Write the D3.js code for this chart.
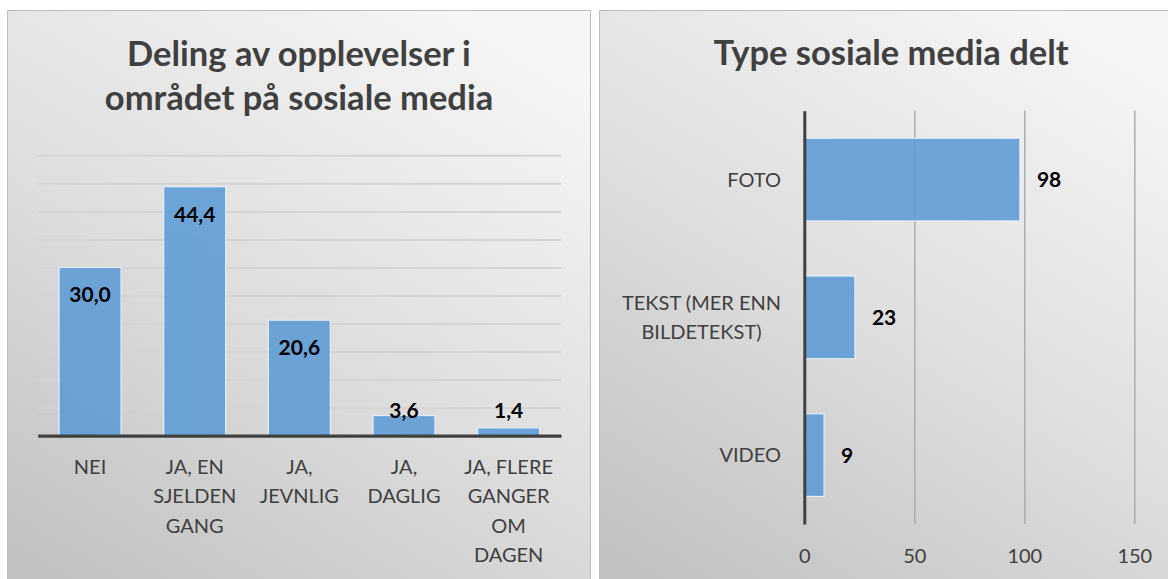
<!DOCTYPE html>
<html>
<head>
<meta charset="utf-8">
<script src="https://cdn.jsdelivr.net/npm/d3@7"></script>
<style>
html,body{margin:0;padding:0;background:#fff;}
svg{display:block;}
text{font-family:Lato,"Open Sans",sans-serif;}
</style>
</head>
<body>
<svg id="chart" width="1168" height="579"></svg>
<script>
// ---- data ----
const title1 = ["Deling av opplevelser i", "området på sosiale media"];
const categories1 = [
  ["NEI"],
  ["JA, EN", "SJELDEN", "GANG"],
  ["JA,", "JEVNLIG"],
  ["JA,", "DAGLIG"],
  ["JA, FLERE", "GANGER", "OM", "DAGEN"]
];
const values1 = [30.0, 44.4, 20.6, 3.6, 1.4];
const gridValues1 = [5, 10, 15, 20, 25, 30, 35, 40, 45, 50];

const title2 = "Type sosiale media delt";
const categories2 = [
  ["FOTO"],
  ["TEKST (MER ENN", "BILDETEKST)"],
  ["VIDEO"]
];
const values2 = [98, 23, 9];
const xTicks2 = [0, 50, 100, 150];

// ---- drawing ----
const svg = d3.select("#chart");
const defs = svg.append("defs");

const bg = defs.append("linearGradient").attr("id", "panelBg")
  .attr("x1", 0.8).attr("y1", 0).attr("x2", 0.25).attr("y2", 1);
bg.append("stop").attr("offset", 0).attr("stop-color", "#f6f6f6");
bg.append("stop").attr("offset", 0.5).attr("stop-color", "#dfdfdf");
bg.append("stop").attr("offset", 1).attr("stop-color", "#c2c2c2");

const g1 = defs.append("linearGradient").attr("id", "grid1")
  .attr("gradientUnits", "userSpaceOnUse")
  .attr("x1", 0).attr("y1", 150).attr("x2", 0).attr("y2", 420);
g1.append("stop").attr("offset", 0).attr("stop-color", "#d4d4d4");
g1.append("stop").attr("offset", 1).attr("stop-color", "#6e6e6e");

const g2 = defs.append("linearGradient").attr("id", "grid2")
  .attr("gradientUnits", "userSpaceOnUse")
  .attr("x1", 0).attr("y1", 110).attr("x2", 0).attr("y2", 525);
g2.append("stop").attr("offset", 0).attr("stop-color", "#acacac");
g2.append("stop").attr("offset", 1).attr("stop-color", "#848484");

// panels
svg.append("rect").attr("x", 7.5).attr("y", 10.5).attr("width", 583).attr("height", 620)
  .attr("fill", "url(#panelBg)").attr("stroke", "#bdbdbd").attr("stroke-width", 1);
svg.append("rect").attr("x", 599.5).attr("y", 10.5).attr("width", 583).attr("height", 620)
  .attr("fill", "url(#panelBg)").attr("stroke", "#bdbdbd").attr("stroke-width", 1);

const barFill = "#5b9bd5";
const fmt1 = v => d3.format(".1f")(v).replace(".", ",");

// ===== Chart 1: vertical bars =====
const x1 = d3.scaleBand().domain(d3.range(categories1.length))
  .range([37.7, 561]).paddingInner(0.408).paddingOuter(0.204);
const y1 = d3.scaleLinear().domain([0, 50]).range([435.7, 155.3]);

const c1 = svg.append("g");
c1.append("text").attr("x", 299).attr("text-anchor", "middle")
  .attr("font-size", 34.5).attr("font-weight", 700).attr("fill", "#404040")
  .selectAll("tspan").data(title1).join("tspan")
  .attr("x", 299).attr("y", (d, i) => 66 + i * 43.5).text(d => d);

// gridlines
c1.append("g").attr("transform", "translate(37.7,0)")
  .call(d3.axisLeft(y1).tickValues(gridValues1).tickSize(-(561 - 37.7)).tickFormat(""))
  .call(g => g.select(".domain").remove())
  .call(g => g.selectAll(".tick line").attr("stroke", "url(#grid1)").attr("stroke-width", 2));

// bars
c1.append("g").selectAll("rect").data(values1).join("rect")
  .attr("x", (d, i) => x1(i)).attr("width", x1.bandwidth())
  .attr("y", d => y1(d)).attr("height", d => y1(0) - y1(d))
  .attr("fill", barFill).attr("fill-opacity", 0.88)
  .attr("stroke", "#e3edf7").attr("stroke-width", 1.2);

// baseline axis
c1.append("g").attr("transform", `translate(0,${y1(0)})`)
  .call(d3.axisBottom(x1).tickSize(0).tickFormat(""))
  .call(g => g.select(".domain").attr("stroke", "#404040").attr("stroke-width", 3.3));

// data labels
c1.append("g").selectAll("text").data(values1).join("text")
  .attr("x", (d, i) => x1(i) + x1.bandwidth() / 2)
  .attr("y", d => Math.min(y1(d) + 35, y1(0) - 18))
  .attr("text-anchor", "middle").attr("font-size", 21).attr("font-weight", 700)
  .attr("fill", "#000").text(d => fmt1(d));

// category labels
c1.append("g").selectAll("text").data(categories1).join("text")
  .attr("text-anchor", "middle").attr("font-size", 20).attr("fill", "#404040")
  .each(function (lines, i) {
    d3.select(this).selectAll("tspan").data(lines).join("tspan")
      .attr("x", x1(i) + x1.bandwidth() / 2)
      .attr("y", (d, j) => 474 + j * 29.3).text(d => d);
  });

// ===== Chart 2: horizontal bars =====
const y2 = d3.scaleBand().domain(d3.range(categories2.length))
  .range([110.7, 524]).paddingInner(0.4).paddingOuter(0.2);
const x2 = d3.scaleLinear().domain([0, 150]).range([804.3, 1134.3]);

const c2 = svg.append("g");
c2.append("text").attr("x", 891).attr("y", 65).attr("text-anchor", "middle")
  .attr("font-size", 34.5).attr("font-weight", 700).attr("fill", "#404040").text(title2);

// vertical gridlines + tick labels
c2.append("g").attr("transform", "translate(0,524)")
  .call(d3.axisBottom(x2).tickValues(xTicks2).tickSize(-(524 - 110.7)).tickPadding(0).tickFormat(d3.format("d")))
  .call(g => g.select(".domain").remove())
  .call(g => g.selectAll(".tick line").attr("stroke", "url(#grid2)").attr("stroke-width", 1.5))
  .call(g => g.selectAll(".tick text").attr("y", 39).attr("dy", null)
    .attr("font-size", 20).attr("fill", "#404040").attr("font-family", "Lato, sans-serif"));

// bars
c2.append("g").selectAll("rect").data(values2).join("rect")
  .attr("x", x2(0)).attr("width", d => x2(d) - x2(0))
  .attr("y", (d, i) => y2(i)).attr("height", y2.bandwidth())
  .attr("fill", barFill).attr("fill-opacity", 0.88)
  .attr("stroke", "#e3edf7").attr("stroke-width", 1.2);

// axis line
c2.append("g").attr("transform", `translate(${x2(0)},0)`)
  .call(d3.axisLeft(y2).tickSize(0).tickFormat(""))
  .call(g => g.select(".domain").attr("stroke", "#404040").attr("stroke-width", 3));

// data labels
c2.append("g").selectAll("text").data(values2).join("text")
  .attr("x", d => x2(d) + 17)
  .attr("y", (d, i) => y2(i) + y2.bandwidth() / 2 + 7.5)
  .attr("font-size", 21).attr("font-weight", 700).attr("fill", "#000").text(d => d);

// category labels (block right-aligned, lines centred)
c2.append("g").selectAll("text").data(categories2).join("text")
  .attr("text-anchor", "middle").attr("font-size", 20).attr("fill", "#404040")
  .each(function (lines, i) {
    const t = d3.select(this);
    const cy = y2(i) + y2.bandwidth() / 2;
    const spans = t.selectAll("tspan").data(lines).join("tspan")
      .attr("y", (d, j) => cy + 7 + (j - (lines.length - 1) / 2) * 29.3).text(d => d);
    let maxW = 0;
    spans.each(function () { maxW = Math.max(maxW, this.getComputedTextLength()); });
    spans.attr("x", 781 - maxW / 2);
  });
</script>
</body>
</html>
